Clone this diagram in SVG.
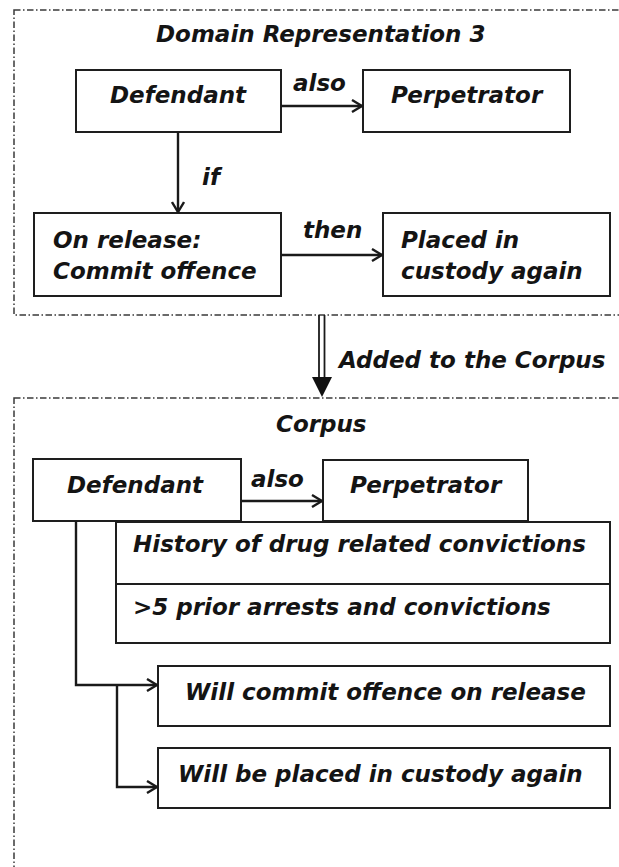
<svg xmlns="http://www.w3.org/2000/svg" width="619" height="867" viewBox="0 0 619 867">
  <style>
    .frame { fill: none; stroke: #3a3a3a; stroke-width: 1.5; stroke-dasharray: 6.5 2.5 1.5 2.5; }
    .box { fill: #ffffff; stroke: #1e1e1e; stroke-width: 2; }
    .lbl { font-family: "DejaVu Sans", Verdana, sans-serif; font-weight: bold; font-style: oblique; font-size: 23px; fill: #141414; }
    .edge { fill: none; stroke: #1a1a1a; stroke-width: 2.4; }
  </style>
  <defs>
    <marker id="open" viewBox="0 0 12 14" refX="11" refY="7" markerWidth="12" markerHeight="14" markerUnits="userSpaceOnUse" orient="auto">
      <path d="M1,1 L11,7 L1,13" fill="none" stroke="#1a1a1a" stroke-width="2.4"/>
    </marker>
  </defs>
  <rect width="619" height="867" fill="#ffffff"/>

  <!-- Domain Representation 3 frame -->
  <g id="domain-frame">
    <rect class="frame" x="14" y="10" width="640" height="305"/>
    <text class="lbl" x="156" y="42">Domain Representation 3</text>
  </g>
  <g id="d-defendant">
    <rect class="box" x="76" y="70" width="205" height="62"/>
    <text class="lbl" x="110" y="103">Defendant</text>
  </g>
  <g id="d-perpetrator">
    <rect class="box" x="363" y="70" width="207" height="62"/>
    <text class="lbl" x="391" y="103">Perpetrator</text>
  </g>
  <g id="d-release">
    <rect class="box" x="34" y="213" width="247" height="83"/>
    <text class="lbl" x="53" y="248">On release:</text>
    <text class="lbl" x="53" y="279">Commit offence</text>
  </g>
  <g id="d-custody">
    <rect class="box" x="383" y="213" width="227" height="83"/>
    <text class="lbl" x="401" y="248">Placed in</text>
    <text class="lbl" x="401" y="279">custody again</text>
  </g>

  <!-- Corpus frame -->
  <g id="corpus-frame">
    <rect class="frame" x="14" y="398" width="640" height="520"/>
    <text class="lbl" x="276" y="432">Corpus</text>
  </g>
  <g id="c-defendant">
    <rect class="box" x="33" y="459" width="208" height="62"/>
    <text class="lbl" x="67" y="493">Defendant</text>
  </g>
  <g id="c-perpetrator">
    <rect class="box" x="323" y="460" width="205" height="61"/>
    <text class="lbl" x="350" y="493">Perpetrator</text>
  </g>
  <g id="c-history">
    <rect class="box" x="116" y="522" width="494" height="62"/>
    <text class="lbl" x="133" y="552">History of drug related convictions</text>
  </g>
  <g id="c-arrests">
    <rect class="box" x="116" y="584" width="494" height="59"/>
    <text class="lbl" x="133" y="615">&gt;5 prior arrests and convictions</text>
  </g>
  <g id="c-offence">
    <rect class="box" x="158" y="666" width="452" height="60"/>
    <text class="lbl" x="185" y="700">Will commit offence on release</text>
  </g>
  <g id="c-custody">
    <rect class="box" x="158" y="748" width="452" height="60"/>
    <text class="lbl" x="178" y="782">Will be placed in custody again</text>
  </g>

  <!-- connectors -->
  <g id="connectors">
    <line class="edge" x1="281" y1="106" x2="362" y2="106" marker-end="url(#open)"/>
    <text class="lbl" x="293" y="91">also</text>
    <line class="edge" x1="178" y1="132" x2="178" y2="212" marker-end="url(#open)"/>
    <text class="lbl" x="202" y="185">if</text>
    <line class="edge" x1="281" y1="255" x2="382" y2="255" marker-end="url(#open)"/>
    <text class="lbl" x="303" y="238">then</text>

    <!-- double-shafted transfer arrow -->
    <line x1="319" y1="315" x2="319" y2="378" stroke="#1a1a1a" stroke-width="1.8"/>
    <line x1="324.5" y1="315" x2="324.5" y2="378" stroke="#1a1a1a" stroke-width="1.8"/>
    <polygon points="312,377 332,377 322,397" fill="#111111"/>
    <text class="lbl" x="339" y="368">Added to the Corpus</text>

    <line class="edge" x1="241" y1="501" x2="322" y2="501" marker-end="url(#open)"/>
    <text class="lbl" x="251" y="487">also</text>
    <polyline class="edge" points="76,521 76,685 157,685" marker-end="url(#open)"/>
    <polyline class="edge" points="117,685 117,787 157,787" marker-end="url(#open)"/>
  </g>
</svg>
